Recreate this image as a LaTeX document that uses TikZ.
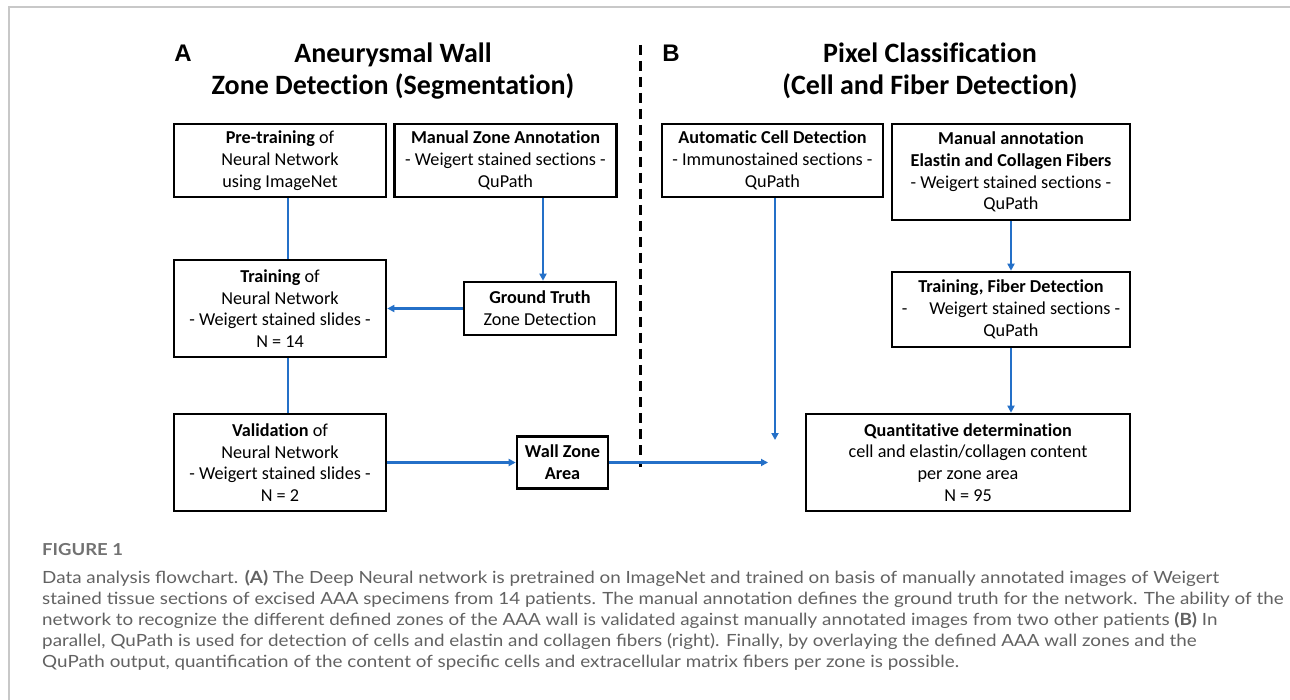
\documentclass[tikz,border=0pt]{standalone}
\usepackage{fontspec}
\setmainfont{Carlito}[Ligatures=NoCommon]
\newfontfamily\arialf{Liberation Sans}
\newfontfamily\capf[FakeStretch=1.12]{Lato}
\usetikzlibrary{arrows.meta,calc}
\definecolor{flowblue}{RGB}{36,112,200}
\definecolor{capgray}{RGB}{98,98,98}
\definecolor{framegray}{RGB}{200,200,200}
\begin{document}
\begin{tikzpicture}[x=1pt,y=-1pt,
  box/.style={draw=black,line width=2.6pt,rectangle,inner sep=0pt,align=center,
    font=\fontsize{18.2}{21.7}\selectfont},
  link/.style={draw=flowblue,line width=2.2pt},
  arr/.style={link,-{Triangle[length=7pt,width=7pt]}},
  head/.style={font=\fontsize{28}{32}\selectfont\bfseries,align=center},
  letter/.style={font=\arialf\fontsize{24}{28}\selectfont\bfseries},
  captext/.style={font=\capf\fontsize{16.8}{21}\selectfont,text=capgray,anchor=base west,inner sep=0pt},
  divider/.style={draw=black,line width=3pt,dash pattern=on 10pt off 6pt}
]
\useasboundingbox (0,0) rectangle (1290,700);
\fill[white] (0,0) rectangle (1290,700);
% frame
\draw[framegray,line width=1.5pt] (9,700) -- (9,7) -- (1290,7);

% headings
\node[letter] (lA) at (183,53) {A};
\node[letter] (lB) at (671,53) {B};
\node[head] (hA) at (393,71) {Aneurysmal Wall\\Zone Detection (Segmentation)};
\node[head] (hB) at (930,71) {Pixel Classification\\(Cell and Fiber Detection)};

% divider
\coordinate (dtop) at (640,45);
\coordinate (dbot) at (640,467);
\draw[divider] (dtop) -- (dbot);

% left boxes
\node[box,minimum width=212pt,minimum height=73pt] (pre) at (280,160.5)
  {\textbf{Pre-training} of\\Neural Network\\using ImageNet};
\node[box,minimum width=222pt,minimum height=73pt] (mza) at (505.5,160.5)
  {\textbf{Manual Zone Annotation}\\- Weigert stained sections -\\QuPath};
\node[box,minimum width=212pt,minimum height=97pt] (train) at (280,308.5)
  {\textbf{Training} of\\Neural Network\\- Weigert stained slides -\\N = 14};
\node[box,minimum width=152pt,minimum height=53pt] (gt) at (540,308.5)
  {\textbf{Ground Truth}\\Zone Detection};
\node[box,minimum width=212pt,minimum height=97pt] (val) at (280,462.5)
  {\textbf{Validation} of\\Neural Network\\- Weigert stained slides -\\N = 2};
\node[box,minimum width=91pt,minimum height=52pt] (wza) at (562.5,462.5)
  {\textbf{Wall Zone}\\\textbf{Area}};

% right boxes
\node[box,minimum width=221pt,minimum height=73pt] (acd) at (772.5,160.5)
  {\textbf{Automatic Cell Detection}\\- Immunostained sections -\\QuPath};
\node[box,minimum width=238pt,minimum height=96pt] (man) at (1011,172)
  {\textbf{Manual annotation}\\\textbf{Elastin and Collagen Fibers}\\- Weigert stained sections -\\QuPath};
\node[box,minimum width=238pt,minimum height=75pt] (tfd) at (1011,309.5)
  {\textbf{Training, Fiber Detection}\\-\hspace{1.2em}Weigert stained sections -\\QuPath};
\node[box,minimum width=324pt,minimum height=97pt] (qd) at (968,462.5)
  {\textbf{Quantitative determination}\\cell and elastin/collagen content\\per zone area\\N = 95};

% connectors
\draw[link] ([xshift=8pt]pre.south) -- ([xshift=8pt]train.north);
\draw[link] ([xshift=8pt]train.south) -- ([xshift=8pt]val.north);
\draw[arr] ([xshift=3pt]gt.north |- mza.south) -- ([xshift=3pt]gt.north);
\draw[arr] (gt.west) -- (train.east);
\draw[arr] (val.east) -- (wza.west);
\coordinate (joinH) at (768,462.5);
\draw[arr] (wza.east) -- (joinH);
\coordinate (joinV) at (775,440);
\draw[arr] (acd.south -| joinV) -- (joinV);
\draw[arr] (man.south) -- (tfd.north);
\draw[arr] (tfd.south) -- (tfd.south |- qd.north);

% caption
\node[captext,font=\capf\fontsize{16.5}{20}\selectfont\bfseries,text=capgray!90] (fig) at (42,555) {FIGURE 1};
\node[captext] (c1) at (42,583.5) {Data analysis flowchart. \textbf{(A)} The Deep Neural network is pretrained on ImageNet and trained on basis of manually annotated images of Weigert};
\node[captext] (c2) at (42,604.5) {stained tissue sections of excised AAA specimens from 14 patients. The manual annotation defines the ground truth for the network. The ability of the};
\node[captext] (c3) at (42,625.5) {network to recognize the different defined zones of the AAA wall is validated against manually annotated images from two other patients \textbf{(B)} In};
\node[captext] (c4) at (42,646.5) {parallel, QuPath is used for detection of cells and elastin and collagen fibers (right). Finally, by overlaying the defined AAA wall zones and the};
\node[captext] (c5) at (42,667.5) {QuPath output, quantification of the content of specific cells and extracellular matrix fibers per zone is possible.};
\end{tikzpicture}
\end{document}
